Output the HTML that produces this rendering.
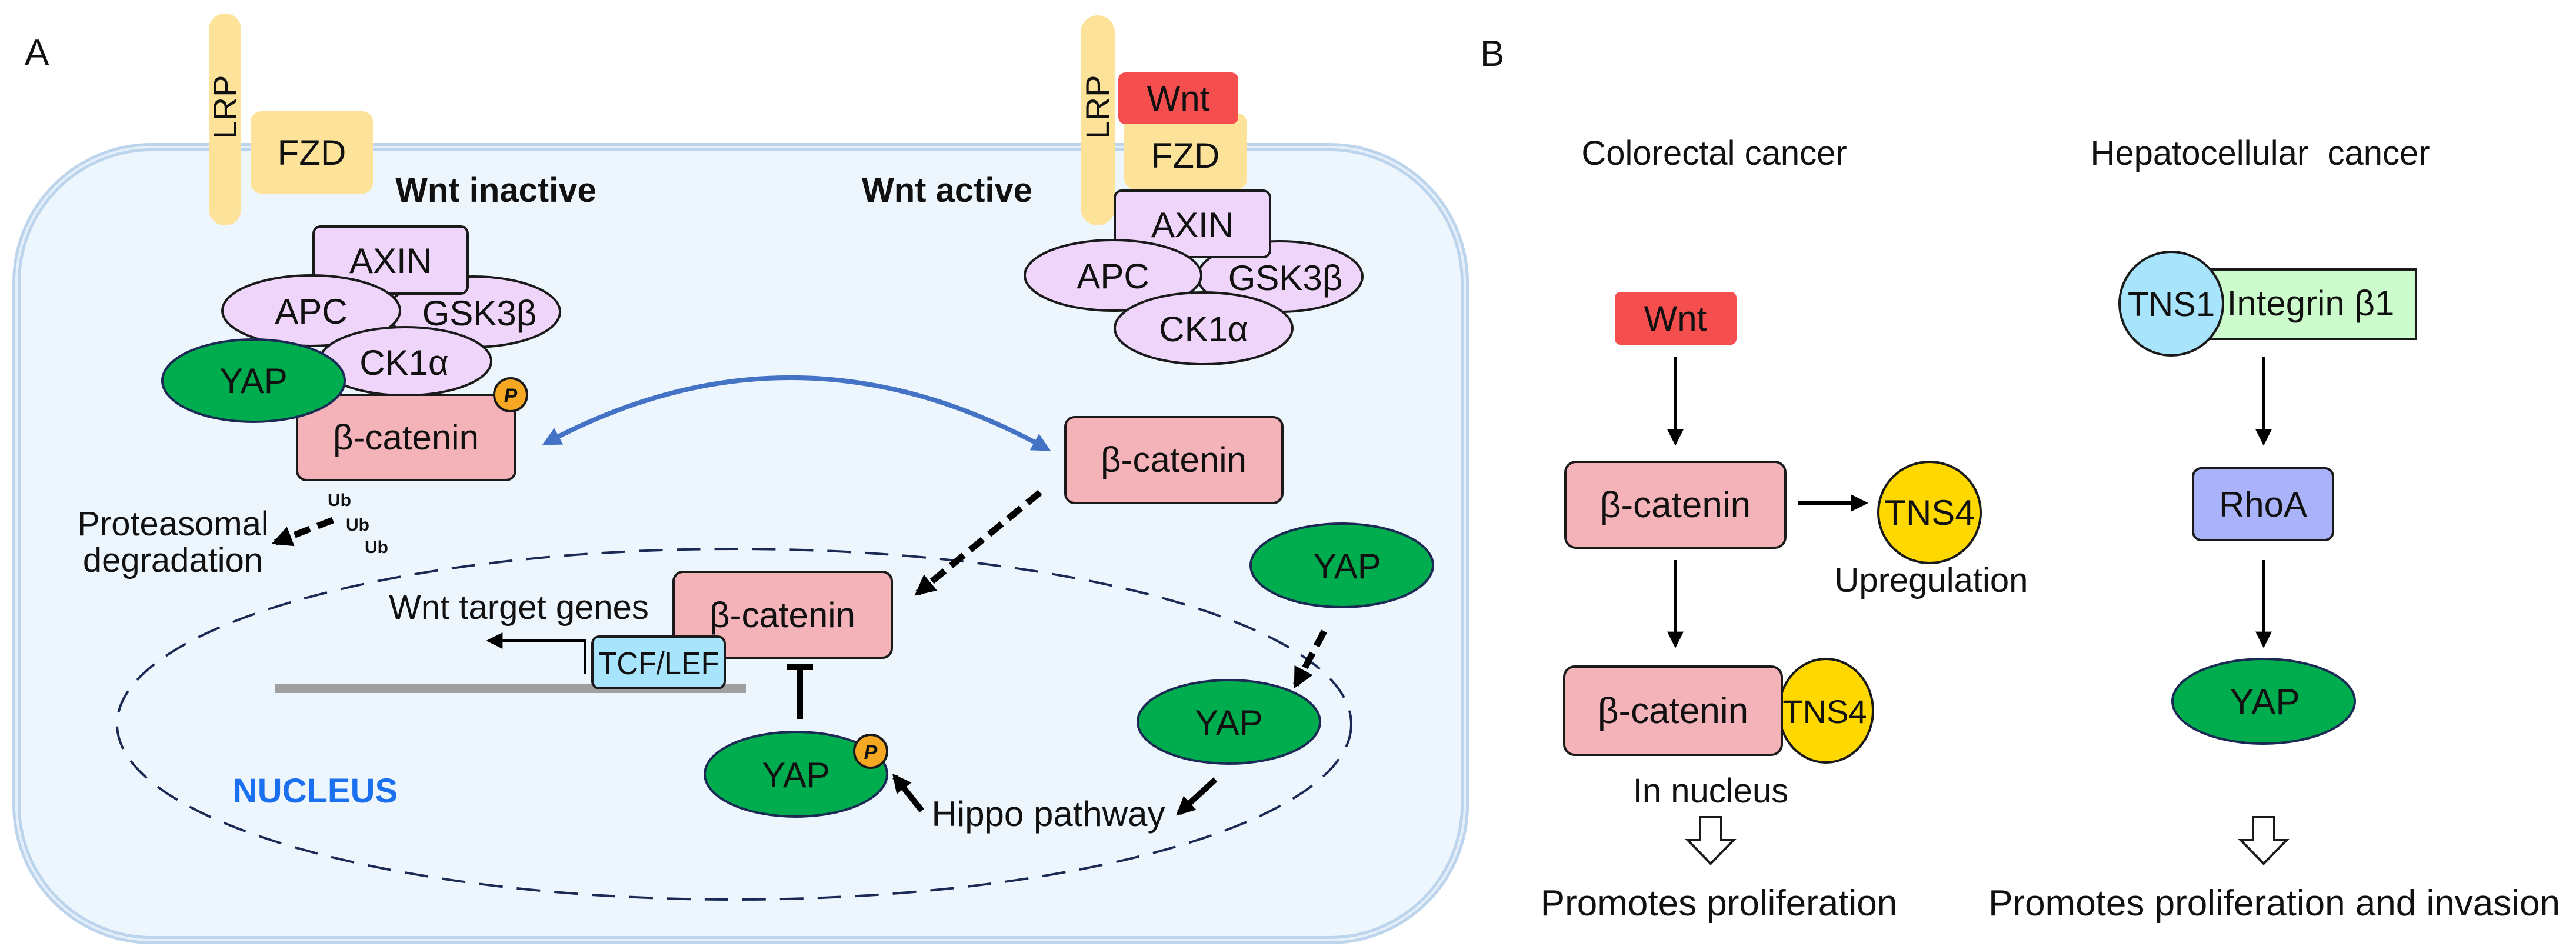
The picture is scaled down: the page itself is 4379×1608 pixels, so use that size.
<!DOCTYPE html>
<html><head><meta charset="utf-8"><style>
html,body{margin:0;padding:0;background:#fff;}
svg{display:block;}
text{font-family:"Liberation Sans",Arial,sans-serif;fill:#111;}
</style></head><body>
<svg width="4379" height="1608" viewBox="0 0 4379 1608" xmlns="http://www.w3.org/2000/svg">
<defs>
<marker id="ah" viewBox="0 0 10 10" refX="8" refY="5" markerWidth="5" markerHeight="5" orient="auto" markerUnits="strokeWidth"><path d="M0,0 L10,5 L0,10 z" fill="#000"/></marker>
<marker id="ah2" viewBox="0 0 10 10" refX="8" refY="5" markerWidth="3.2" markerHeight="3.2" orient="auto" markerUnits="strokeWidth"><path d="M0,0 L10,5 L0,10 z" fill="#000"/></marker>
<marker id="ahs" viewBox="0 0 10 10" refX="8" refY="5" markerWidth="7" markerHeight="7" orient="auto" markerUnits="strokeWidth"><path d="M0,0 L10,5 L0,10 z" fill="#000"/></marker>
<marker id="ab" viewBox="0 0 10 10" refX="7" refY="5" markerWidth="4" markerHeight="4" orient="auto-start-reverse" markerUnits="strokeWidth"><path d="M0,0 L10,5 L0,10 z" fill="#4472c4"/></marker>
</defs>

<text x="42" y="110" font-size="62">A</text>

<!-- cell -->
<rect x="28" y="250" width="2462" height="1348" rx="230" fill="#eef6fd" stroke="#bcd5ec" stroke-width="14"/>
<rect x="28" y="250" width="2462" height="1348" rx="230" fill="none" stroke="#e6f0fa" stroke-width="4"/>

<!-- receptors inactive -->
<rect x="355" y="23" width="55" height="360" rx="27" fill="#fde39a"/>
<text transform="translate(402,182) rotate(-90)" font-size="56" text-anchor="middle">LRP</text>
<rect x="426" y="189" width="208" height="140" rx="18" fill="#fde39a"/>
<text x="530" y="280" font-size="60" text-anchor="middle">FZD</text>
<text x="843" y="343" font-size="58" font-weight="bold" text-anchor="middle">Wnt inactive</text>
<text x="1610" y="343" font-size="58" font-weight="bold" text-anchor="middle">Wnt active</text>

<!-- inactive complex -->
<g stroke="#1a1a1a" stroke-width="4">
<ellipse cx="805" cy="530" rx="147" ry="60" fill="#f0d5fb"/>
<rect x="533" y="385" width="262" height="114" rx="12" fill="#f0d5fb"/>
<ellipse cx="529" cy="528" rx="151" ry="60" fill="#f0d5fb"/>
<ellipse cx="689" cy="614" rx="146" ry="58" fill="#f0d5fb"/>
<rect x="505" y="671" width="371" height="145" rx="16" fill="#f4b3b8"/>
<ellipse cx="431" cy="647" rx="155" ry="70" fill="#00ad4e" stroke="#1b2a55"/>
<circle cx="868" cy="671" r="28" fill="#f7a823"/>
</g>
<text x="664" y="464" font-size="60" text-anchor="middle">AXIN</text>
<text x="529" y="550" font-size="60" text-anchor="middle">APC</text>
<text x="815" y="553" font-size="60" text-anchor="middle">GSK3β</text>
<text x="687" y="637" font-size="60" text-anchor="middle">CK1α</text>
<text x="431" y="668" font-size="60" text-anchor="middle">YAP</text>
<text x="690" y="764" font-size="60" text-anchor="middle">β-catenin</text>
<text x="868" y="684" font-size="34" font-weight="bold" font-style="italic" text-anchor="middle">P</text>

<text x="577" y="860" font-size="30" font-weight="bold" text-anchor="middle">Ub</text>
<text x="608" y="902" font-size="30" font-weight="bold" text-anchor="middle">Ub</text>
<text x="640" y="940" font-size="30" font-weight="bold" text-anchor="middle">Ub</text>
<line x1="566" y1="884" x2="468" y2="922" stroke="#000" stroke-width="11" stroke-dasharray="28,14" marker-end="url(#ah2)"/>
<text x="294" y="910" font-size="58" text-anchor="middle">Proteasomal</text>
<text x="294" y="972" font-size="58" text-anchor="middle">degradation</text>

<!-- active complex -->
<rect x="1837" y="26" width="58" height="357" rx="29" fill="#fde39a"/>
<text transform="translate(1885,182) rotate(-90)" font-size="56" text-anchor="middle">LRP</text>
<rect x="1911" y="192" width="209" height="130" rx="18" fill="#fde39a"/>
<text x="2015" y="285" font-size="60" text-anchor="middle">FZD</text>
<rect x="1901" y="123" width="204" height="88" rx="12" fill="#f54e4e"/>
<text x="2003" y="188" font-size="60" text-anchor="middle">Wnt</text>
<g stroke="#1a1a1a" stroke-width="4" fill="#f0d5fb">
<ellipse cx="2176" cy="470" rx="140" ry="60"/>
<rect x="1895" y="324" width="264" height="113" rx="12"/>
<ellipse cx="1892" cy="468" rx="150" ry="60"/>
<ellipse cx="2046" cy="558" rx="151" ry="61"/>
</g>
<text x="2027" y="403" font-size="60" text-anchor="middle">AXIN</text>
<text x="1892" y="490" font-size="60" text-anchor="middle">APC</text>
<text x="2185" y="493" font-size="60" text-anchor="middle">GSK3β</text>
<text x="2046" y="580" font-size="60" text-anchor="middle">CK1α</text>

<!-- blue arc -->
<path d="M 930 752 Q 1352 527 1778 762" fill="none" stroke="#4472c4" stroke-width="8" marker-start="url(#ab)" marker-end="url(#ab)"/>

<!-- right beta-catenin -->
<rect x="1811" y="709" width="369" height="146" rx="16" fill="#f4b3b8" stroke="#1a1a1a" stroke-width="4"/>
<text x="1995" y="802" font-size="60" text-anchor="middle">β-catenin</text>

<!-- nucleus -->
<ellipse cx="1248" cy="1231" rx="1049" ry="298" fill="none" stroke="#1b2a55" stroke-width="4" stroke-dasharray="40,24"/>
<text x="536" y="1364" font-size="58" font-weight="bold" style="fill:#1a70ee" text-anchor="middle">NUCLEUS</text>

<line x1="1768" y1="837" x2="1560" y2="1008" stroke="#000" stroke-width="11" stroke-dasharray="28,14" marker-end="url(#ah2)"/>

<rect x="467" y="1163" width="801" height="15" fill="#a0a0a0"/>
<rect x="1145" y="972" width="371" height="146" rx="16" fill="#f4b3b8" stroke="#1a1a1a" stroke-width="4"/>
<text x="1330" y="1066" font-size="60" text-anchor="middle">β-catenin</text>
<rect x="1007" y="1082" width="225" height="88" rx="12" fill="#a8e4fc" stroke="#1a1a1a" stroke-width="4"/>
<text x="1120" y="1146" font-size="54" text-anchor="middle" textLength="205" lengthAdjust="spacingAndGlyphs">TCF/LEF</text>
<polyline points="995,1146 995,1089 832,1089" fill="none" stroke="#000" stroke-width="4" marker-end="url(#ahs)"/>
<text x="882" y="1052" font-size="58" text-anchor="middle">Wnt target genes</text>

<!-- inhibition -->
<line x1="1360" y1="1222" x2="1360" y2="1134" stroke="#000" stroke-width="10"/>
<line x1="1338" y1="1134" x2="1382" y2="1134" stroke="#000" stroke-width="10"/>

<ellipse cx="1353" cy="1316" rx="155" ry="72" fill="#00ad4e" stroke="#1b2a55" stroke-width="4"/>
<text x="1353" y="1338" font-size="60" text-anchor="middle">YAP</text>
<circle cx="1480" cy="1277" r="28" fill="#f7a823" stroke="#1a1a1a" stroke-width="4"/>
<text x="1480" y="1290" font-size="34" font-weight="bold" font-style="italic" text-anchor="middle">P</text>

<ellipse cx="2281" cy="961" rx="155" ry="71" fill="#00ad4e" stroke="#1b2a55" stroke-width="4"/>
<text x="2290" y="983" font-size="60" text-anchor="middle">YAP</text>
<line x1="2251" y1="1073" x2="2203" y2="1164" stroke="#000" stroke-width="11" stroke-dasharray="28,14" marker-end="url(#ah2)"/>
<ellipse cx="2089" cy="1227" rx="155" ry="71" fill="#00ad4e" stroke="#1b2a55" stroke-width="4"/>
<text x="2089" y="1249" font-size="60" text-anchor="middle">YAP</text>

<text x="1782" y="1404" font-size="60" text-anchor="middle">Hippo pathway</text>
<line x1="2066" y1="1325" x2="2004" y2="1382" stroke="#000" stroke-width="10" marker-end="url(#ah2)"/>
<line x1="1567" y1="1378" x2="1521" y2="1320" stroke="#000" stroke-width="10" marker-end="url(#ah2)"/>

<!-- PANEL B -->
<text x="2516" y="112" font-size="62">B</text>
<text x="2914" y="280" font-size="58" text-anchor="middle">Colorectal cancer</text>
<text x="3842" y="280" font-size="58" text-anchor="middle" xml:space="preserve">Hepatocellular  cancer</text>

<rect x="2745" y="496" width="207" height="90" rx="10" fill="#f54e4e"/>
<text x="2848" y="562" font-size="60" text-anchor="middle">Wnt</text>
<line x1="2848" y1="607" x2="2848" y2="752" stroke="#000" stroke-width="4" marker-end="url(#ahs)"/>
<rect x="2661" y="785" width="374" height="146" rx="18" fill="#f4b3b8" stroke="#1a1a1a" stroke-width="4"/>
<text x="2848" y="879" font-size="62" text-anchor="middle">β-catenin</text>
<line x1="3057" y1="855" x2="3170" y2="855" stroke="#000" stroke-width="6" marker-end="url(#ah)"/>
<ellipse cx="3280" cy="871" rx="87" ry="86" fill="#ffd800" stroke="#1a1a1a" stroke-width="4"/>
<text x="3280" y="892" font-size="60" text-anchor="middle">TNS4</text>
<text x="3283" y="1006" font-size="58" text-anchor="middle">Upregulation</text>
<line x1="2848" y1="952" x2="2848" y2="1096" stroke="#000" stroke-width="4" marker-end="url(#ahs)"/>
<ellipse cx="3104" cy="1208" rx="80" ry="88" fill="#ffd800" stroke="#1a1a1a" stroke-width="4"/>
<rect x="2659" y="1133" width="370" height="150" rx="18" fill="#f4b3b8" stroke="#1a1a1a" stroke-width="4"/>
<text x="2844" y="1229" font-size="62" text-anchor="middle">β-catenin</text>
<text x="3102" y="1229" font-size="56" text-anchor="middle">TNS4</text>
<text x="2908" y="1364" font-size="58" text-anchor="middle">In nucleus</text>
<polygon points="2890,1389 2926,1389 2926,1428 2947,1428 2908,1468 2869,1428 2890,1428" fill="#fff" stroke="#1a1a1a" stroke-width="4"/>
<text x="2922" y="1556" font-size="62" text-anchor="middle">Promotes proliferation</text>

<rect x="3757" y="458" width="350" height="118" fill="#ccfccc" stroke="#1a1a1a" stroke-width="4"/>
<text x="3928" y="536" font-size="60" text-anchor="middle">Integrin β1</text>
<ellipse cx="3691" cy="516" rx="88" ry="88" fill="#a8e4fc" stroke="#1a1a1a" stroke-width="4"/>
<text x="3691" y="537" font-size="58" text-anchor="middle">TNS1</text>
<line x1="3848" y1="607" x2="3848" y2="752" stroke="#000" stroke-width="4" marker-end="url(#ahs)"/>
<rect x="3728" y="796" width="238" height="122" rx="14" fill="#aab3f9" stroke="#1a1a1a" stroke-width="4"/>
<text x="3847" y="878" font-size="60" text-anchor="middle">RhoA</text>
<line x1="3848" y1="952" x2="3848" y2="1096" stroke="#000" stroke-width="4" marker-end="url(#ahs)"/>
<ellipse cx="3848" cy="1192" rx="155" ry="72" fill="#00ad4e" stroke="#1b2a55" stroke-width="4"/>
<text x="3850" y="1214" font-size="62" text-anchor="middle">YAP</text>
<polygon points="3830,1389 3866,1389 3866,1428 3887,1428 3848,1468 3809,1428 3830,1428" fill="#fff" stroke="#1a1a1a" stroke-width="4"/>
<text x="3866" y="1556" font-size="62" text-anchor="middle">Promotes proliferation and invasion</text>
</svg>
</body></html>
